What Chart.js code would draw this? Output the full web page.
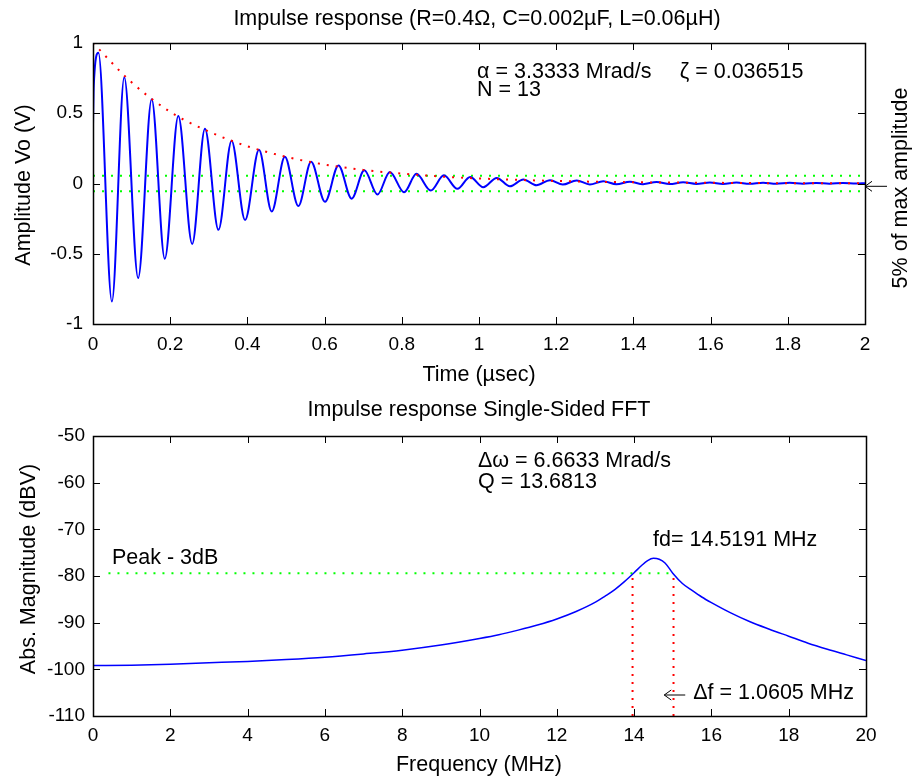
<!DOCTYPE html>
<html>
<head>
<meta charset="utf-8">
<title>Impulse response</title>
<script src="https://cdn.jsdelivr.net/npm/chart.js@4.4.1/dist/chart.umd.min.js"></script>
<style>
  body { margin: 0; background: #fff; }
  #wrap { position: relative; width: 915px; height: 776px; }
  canvas { position: absolute; left: 0; }
  #timeChart { top: 0; }
  #fftChart { top: 390px; }
</style>
</head>
<body>
<div id="wrap">
  <canvas id="timeChart" width="915" height="390"></canvas>
  <canvas id="fftChart" width="915" height="386"></canvas>
</div>
<script>
// impulse response (start, then peaks and troughs)
const timeUs = [0, 0.002, 0.014, 0.049, 0.081, 0.117, 0.152, 0.186, 0.221, 0.257,
    0.290, 0.325, 0.359, 0.394, 0.430, 0.463, 0.497, 0.532, 0.565, 0.601,
    0.636, 0.670, 0.703, 0.737, 0.769, 0.806, 0.838, 0.875, 0.909, 0.944,
    0.977, 1.011, 1.046, 1.080, 1.115, 1.149, 1.184, 1.217, 1.253, 1.287,
    1.322, 1.356, 1.391, 1.425, 1.460, 1.494, 1.529, 1.563, 1.598, 1.632,
    1.667, 1.701, 1.736, 1.770, 1.805, 1.839, 1.874, 1.908, 1.943, 1.977, 2.0];
const voltage = [0.42, 0.70, 0.93, -0.84, 0.757, -0.673, 0.60, -0.536, 0.48, -0.43,
    0.39, -0.33, 0.305, -0.26, 0.24, -0.2, 0.19, -0.16, 0.155, -0.13,
    0.128, -0.108, 0.094, -0.078, 0.082, -0.062, 0.069, -0.05, 0.058, -0.038,
    0.047, -0.026, 0.04, -0.02, 0.029, -0.013, 0.024, -0.008, 0.022, -0.007,
    0.016, -0.006, 0.013, -0.005, 0.011, -0.004, 0.009, -0.003, 0.008, -0.003,
    0.007, -0.002, 0.006, -0.002, 0.005, -0.001, 0.004, -0.001, 0.004, 0.0, 0.002];

// decay envelope (red dots)
const envTimeUs = [0, 0.1, 0.2, 0.3, 0.4, 0.5, 0.6, 0.7, 0.8, 0.9, 1.0, 1.2, 1.4, 1.6, 1.8, 2.0];
const envVoltage = [1.0, 0.72, 0.51, 0.37, 0.265, 0.19, 0.135, 0.097, 0.07, 0.05, 0.036, 0.018, 0.009, 0.005, 0.002, 0.001];

// 5% of max amplitude band
const bandTimeUs = [0, 2];
const bandUpper = [0.055, 0.055];
const bandLower = [-0.055, -0.055];

const timeTicks = ['0', '0.2', '0.4', '0.6', '0.8', '1', '1.2', '1.4', '1.6', '1.8', '2'];
const voltTicks = ['-1', '-0.5', '0', '0.5', '1'];

// single-sided FFT
const freqMHz = [0, 1, 2, 3, 4, 5, 6, 7, 8, 9, 10, 10.5, 11, 11.5, 12, 12.5, 13, 13.25,
    13.5, 13.75, 14, 14.2, 14.35, 14.5, 14.65, 14.8, 15, 15.25, 15.5, 15.75, 16,
    16.5, 17, 17.5, 18, 18.5, 19, 19.5, 20];
const magDb = [-99.2, -99.1, -98.9, -98.6, -98.3, -97.9, -97.4, -96.7, -95.9, -94.8,
    -93.4, -92.6, -91.6, -90.5, -89.2, -87.6, -85.6, -84.3,
    -82.9, -81.2, -79.3, -77.7, -76.7, -76.2, -76.4, -77.2, -79.4, -81.6, -83.1, -84.5, -85.7,
    -87.9, -89.8, -91.4, -92.9, -94.4, -95.7, -96.9, -98.1];

// peak - 3dB line and the two band edges
const halfPowerFreq = [0.4, 15.02];
const halfPowerDb = [-79.4, -79.4];
const edgeLowFreq = [13.96, 13.96];
const edgeHighFreq = [15.02, 15.02];
const edgeDb = [-110, -79.4];

const freqTicks = ['0', '2', '4', '6', '8', '10', '12', '14', '16', '18', '20'];
const dbTicks = ['-110', '-100', '-90', '-80', '-70', '-60', '-50'];

const FONT = '"Liberation Sans", Arial, "DejaVu Sans", sans-serif';
const TEXT_SIZE = 21.5;

function toPoints(xs, ys) {
    return xs.map((x, i) => ({x: x, y: ys[i]}));
}

// box round the plot with inward ticks on all four sides
const frame = {
    id: 'frame',
    afterDatasetsDraw(chart) {
        const ctx = chart.ctx;
        const a = chart.chartArea;
        const sx = chart.scales.x;
        const sy = chart.scales.y;
        ctx.save();
        ctx.strokeStyle = '#000';
        ctx.lineWidth = 1;
        ctx.beginPath();
        sx.ticks.forEach(t => {
            const p = Math.round(sx.getPixelForValue(t.value)) + 0.5;
            ctx.moveTo(p, a.bottom); ctx.lineTo(p, a.bottom - 7);
            ctx.moveTo(p, a.top); ctx.lineTo(p, a.top + 7);
        });
        sy.ticks.forEach(t => {
            const p = Math.round(sy.getPixelForValue(t.value)) + 0.5;
            ctx.moveTo(a.left, p); ctx.lineTo(a.left + 7, p);
            ctx.moveTo(a.right, p); ctx.lineTo(a.right - 7, p);
        });
        ctx.stroke();
        ctx.lineWidth = 1.5;
        ctx.strokeRect(Math.round(a.left) + 0.5, Math.round(a.top) + 0.5,
            Math.round(a.right - a.left), Math.round(a.bottom - a.top));
        ctx.restore();
    }
};

// text placed either in pixels or in data units; arrow items draw a left arrow
function notes(items) {
    return {
        id: 'notes',
        afterDraw(chart) {
            const ctx = chart.ctx;
            ctx.save();
            ctx.fillStyle = '#000';
            ctx.strokeStyle = '#000';
            ctx.lineWidth = 1;
            ctx.font = TEXT_SIZE + 'px ' + FONT;
            ctx.textBaseline = 'middle';
            items.forEach(n => {
                let x = n.x, y = n.y;
                if (n.data) {
                    x = chart.scales.x.getPixelForValue(n.x);
                    y = chart.scales.y.getPixelForValue(n.y);
                }
                ctx.save();
                ctx.translate(x, y);
                if (n.arrow) {
                    ctx.beginPath();
                    ctx.moveTo(n.arrow, 0); ctx.lineTo(0, 0);
                    ctx.moveTo(7, -5); ctx.lineTo(0, 0); ctx.lineTo(7, 5);
                    ctx.stroke();
                } else {
                    if (n.rotate) ctx.rotate(n.rotate);
                    ctx.textAlign = n.align || 'left';
                    ctx.fillText(n.text, 0, 0);
                }
                ctx.restore();
            });
            ctx.restore();
        }
    };
}

function axisOptions(min, max, step, labels, width, height, pad) {
    return {
        type: 'linear',
        min: min,
        max: max,
        grid: {display: false, drawTicks: false},
        border: {display: false},
        ticks: {
            stepSize: step,
            autoSkip: false,
            maxRotation: 0,
            padding: pad,
            color: '#000',
            font: {family: FONT, size: 19},
            callback: (v, i) => labels[i]
        },
        afterFit: function (scale) {
            if (width) scale.width = width;
            if (height) scale.height = height;
        }
    };
}

function createTimeChart() {
    const ctx = document.getElementById('timeChart').getContext('2d');
    new Chart(ctx, {
        type: 'line',
        data: {
            datasets: [{
                    data: toPoints(envTimeUs, envVoltage),
                    borderColor: '#ff0000',
                    borderWidth: 2,
                    borderDash: [2, 7],
                    cubicInterpolationMode: 'monotone',
                    pointRadius: 0,
                    order: 0
                }, {
                    data: toPoints(timeUs, voltage),
                    borderColor: '#0000ff',
                    borderWidth: 2,
                    cubicInterpolationMode: 'monotone',
                    pointRadius: 0,
                    order: 1
                }, {
                    data: toPoints(bandTimeUs, bandUpper),
                    borderColor: '#00ff00',
                    borderWidth: 2,
                    borderDash: [2, 7],
                    pointRadius: 0,
                    order: 2
                }, {
                    data: toPoints(bandTimeUs, bandLower),
                    borderColor: '#00ff00',
                    borderWidth: 2,
                    borderDash: [2, 7],
                    pointRadius: 0,
                    order: 2
                }]
        },
        options: {
            responsive: false,
            animation: false,
            layout: {padding: {top: 43, right: 50, left: 0, bottom: 0}},
            plugins: {legend: {display: false}, tooltip: {enabled: false}},
            scales: {
                x: axisOptions(0, 2, 0.2, timeTicks, 0, 66, 9),
                y: axisOptions(-1, 1, 0.5, voltTicks, 93, 0, 10)
            }
        },
        plugins: [frame, notes([
                {text: 'Impulse response (R=0.4\u03A9, C=0.002\u00B5F, L=0.06\u00B5H)', x: 477, y: 19, align: 'center'},
                {text: '\u03B1 = 3.3333 Mrad/s', x: 0.995, y: 0.79, data: true},
                {text: '\u03B6 = 0.036515', x: 1.52, y: 0.79, data: true},
                {text: 'N = 13', x: 0.995, y: 0.665, data: true},
                {text: 'Time (\u00B5sec)', x: 479, y: 375, align: 'center'},
                {text: 'Amplitude Vo (V)', x: 24, y: 185, align: 'center', rotate: -Math.PI / 2},
                {text: '5% of max amplitude', x: 901, y: 188, align: 'center', rotate: -Math.PI / 2},
                {arrow: 22, x: 2, y: -0.02, data: true}
            ])]
    });
}

function createFftChart() {
    const ctx = document.getElementById('fftChart').getContext('2d');
    new Chart(ctx, {
        type: 'line',
        data: {
            datasets: [{
                    data: toPoints(freqMHz, magDb),
                    borderColor: '#0000ff',
                    borderWidth: 1.5,
                    cubicInterpolationMode: 'monotone',
                    pointRadius: 0,
                    order: 1
                }, {
                    data: toPoints(halfPowerFreq, halfPowerDb),
                    borderColor: '#00ff00',
                    borderWidth: 2,
                    borderDash: [2, 7],
                    pointRadius: 0,
                    order: 2
                }, {
                    data: toPoints(edgeLowFreq, edgeDb),
                    borderColor: '#ff0000',
                    borderWidth: 2,
                    borderDash: [2, 6],
                    pointRadius: 0,
                    order: 2
                }, {
                    data: toPoints(edgeHighFreq, edgeDb),
                    borderColor: '#ff0000',
                    borderWidth: 2,
                    borderDash: [2, 6],
                    pointRadius: 0,
                    order: 2
                }]
        },
        options: {
            responsive: false,
            animation: false,
            layout: {padding: {top: 46, right: 49, left: 0, bottom: 0}},
            plugins: {legend: {display: false}, tooltip: {enabled: false}},
            scales: {
                x: axisOptions(0, 20, 2, freqTicks, 0, 60, 8),
                y: axisOptions(-110, -50, 10, dbTicks, 93, 0, 8)
            }
        },
        plugins: [frame, notes([
                {text: 'Impulse response Single-Sided FFT', x: 479, y: 20, align: 'center'},
                {text: '\u0394\u03C9 = 6.6633 Mrad/s', x: 9.96, y: -55.4, data: true},
                {text: 'Q = 13.6813', x: 9.96, y: -59.9, data: true},
                {text: 'fd= 14.5191 MHz', x: 14.49, y: -72.3, data: true},
                {text: 'Peak - 3dB', x: 0.49, y: -76.1, data: true},
                {arrow: 21, x: 14.78, y: -105.5, data: true},
                {text: '\u0394f = 1.0605 MHz', x: 15.53, y: -105.1, data: true},
                {text: 'Frequency (MHz)', x: 479, y: 375, align: 'center'},
                {text: 'Abs. Magnitude (dBV)', x: 29, y: 179, align: 'center', rotate: -Math.PI / 2}
            ])]
    });
}

window.onload = function () {
    createTimeChart();
    createFftChart();
};
</script>
</body>
</html>
